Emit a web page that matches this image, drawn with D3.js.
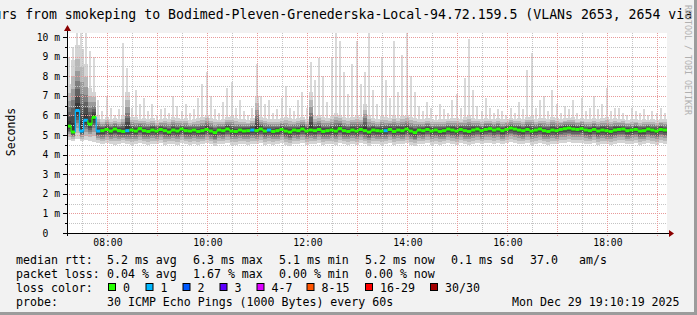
<!DOCTYPE html>
<html>
<head>
<meta charset="utf-8">
<script src="https://cdn.jsdelivr.net/npm/d3@7"></script>
<style>
  html, body { margin: 0; padding: 0; background: #f2f2f2; }
  svg { display: block; font-family: "DejaVu Sans Mono", monospace; }
  text { white-space: pre; }
</style>
</head>
<body>
<svg id="chart" width="697" height="315"></svg>
<script>
// 5 minute steps, 07:11:30 -> 19:11:30
const startTime = new Date(2025, 11, 29, 7, 11, 30);
const endTime = new Date(2025, 11, 29, 19, 11, 30);
const stepMinutes = 5;

// median rtt per step (ms)
const medianRtt = [
  5.45, 5.15, 6.25, 5.20, 5.75, 5.55, 5.90, 5.20, 5.22, 5.28, 5.20, 5.30, 5.22, 5.18, 5.22,
  5.25, 5.20, 5.32, 5.22, 5.18, 5.25, 5.20, 5.28, 5.22, 5.15, 5.25, 5.20, 5.30, 5.22, 5.20,
  5.25, 5.18, 5.22, 5.28, 5.20, 5.12, 5.25, 5.22, 5.30, 5.20, 5.18, 5.25, 5.20, 5.22, 5.25,
  5.22, 5.30, 5.20, 5.25, 5.18, 5.22, 5.28, 5.20, 5.15, 5.25, 5.22, 5.30, 5.20, 5.25, 5.22,
  5.28, 5.18, 5.22, 5.25, 5.20, 5.32, 5.22, 5.18, 5.25, 5.20, 5.28, 5.22, 5.15, 5.25, 5.22,
  5.20, 5.22, 5.28, 5.18, 5.25, 5.22, 5.30, 5.20, 5.12, 5.25, 5.22, 5.28, 5.20, 5.25, 5.18,
  5.22, 5.30, 5.25, 5.20, 5.28, 5.22, 5.18, 5.25, 5.30, 5.22, 5.28, 5.32, 5.25, 5.30, 5.22,
  5.28, 5.35, 5.30, 5.25, 5.22, 5.28, 5.20, 5.25, 5.30, 5.22, 5.18, 5.25, 5.22, 5.28, 5.32,
  5.35, 5.30, 5.28, 5.32, 5.25, 5.22, 5.28, 5.20, 5.25, 5.22, 5.18, 5.25, 5.28, 5.30, 5.22,
  5.25, 5.28, 5.20, 5.22, 5.30, 5.25, 5.20, 5.28, 5.25
];
// lowest ping per step
const lowRtt = [
  4.75, 4.70, 4.80, 4.70, 4.75, 4.70, 4.65, 4.60, 4.55, 4.60, 4.55, 4.50, 4.55, 4.60, 4.55,
  4.50, 4.55, 4.60, 4.55, 4.50, 4.55, 4.55, 4.60, 4.50, 4.55, 4.55, 4.50, 4.60, 4.55, 4.50,
  4.55, 4.50, 4.55, 4.60, 4.55, 4.45, 4.55, 4.55, 4.60, 4.50, 4.50, 4.55, 4.55, 4.50, 4.55,
  4.55, 4.60, 4.50, 4.55, 4.50, 4.55, 4.60, 4.50, 4.45, 4.55, 4.55, 4.60, 4.50, 4.55, 4.55,
  4.60, 4.50, 4.55, 4.55, 4.50, 4.60, 4.55, 4.50, 4.55, 4.50, 4.60, 4.55, 4.45, 4.55, 4.55,
  4.50, 4.55, 4.60, 4.50, 4.55, 4.55, 4.60, 4.50, 4.45, 4.55, 4.55, 4.60, 4.50, 4.55, 4.50,
  4.55, 4.60, 4.55, 4.50, 4.60, 4.55, 4.50, 4.55, 4.60, 4.55, 4.60, 4.60, 4.55, 4.60, 4.55,
  4.60, 4.65, 4.60, 4.55, 4.55, 4.60, 4.50, 4.55, 4.60, 4.55, 4.50, 4.55, 4.55, 4.60, 4.60,
  4.65, 4.60, 4.60, 4.60, 4.55, 4.55, 4.60, 4.50, 4.55, 4.55, 4.50, 4.55, 4.60, 4.60, 4.55,
  4.55, 4.60, 4.50, 4.55, 4.60, 4.55, 4.50, 4.60, 4.55
];
// top of the dense smoke per step
const upperRtt = [
  7.6, 8.8, 9.6, 9.4, 8.6, 7.4, 7.2, 6.0, 5.8, 5.9, 5.8, 5.85, 5.8, 6.0, 7.2,
  5.9, 5.9, 5.8, 5.85, 5.8, 5.85, 5.75, 5.8, 5.85, 5.8, 5.9, 5.85, 5.8, 5.85, 5.75,
  5.8, 5.85, 5.9, 6.0, 5.85, 5.8, 5.75, 5.8, 5.9, 5.95, 5.85, 5.8, 5.8, 5.75, 5.85,
  7.0, 5.9, 5.85, 5.8, 5.8, 5.8, 5.85, 5.9, 5.85, 5.8, 5.85, 5.9, 5.8, 7.2, 5.95,
  6.0, 5.9, 5.85, 5.95, 6.1, 6.0, 5.9, 5.85, 5.9, 6.0, 5.9, 6.6, 6.0, 5.85, 5.8,
  5.95, 5.9, 5.85, 6.0, 5.85, 5.95, 6.0, 5.9, 5.85, 5.8, 5.8, 5.85, 5.8, 5.75, 5.8,
  5.8, 5.8, 5.85, 5.85, 5.8, 5.9, 6.0, 5.85, 5.8, 5.8, 5.85, 5.8, 5.8, 5.85, 5.8,
  5.8, 5.85, 5.8, 5.85, 5.8, 5.9, 5.95, 5.8, 5.85, 5.85, 5.8, 5.9, 5.85, 5.8, 5.85,
  5.85, 5.9, 5.8, 5.85, 5.8, 5.8, 5.85, 5.8, 5.85, 5.9, 5.8, 5.85, 5.8, 5.8, 5.75,
  5.8, 5.8, 5.75, 5.8, 5.75, 5.8, 5.75, 5.8, 5.8
];
// highest ping per step
const maxRtt = [
  9.0, 9.5, 10.3, 10.3, 10.3, 9.3, 9.0, 6.8, 6.2, 7.0,
  6.4, 6.0, 6.3, 9.7, 8.4, 6.4, 7.3, 6.6, 6.9, 6.2,
  6.6, 6.0, 6.3, 6.4, 6.1, 7.0, 6.5, 6.2, 6.6, 6.1,
  6.3, 6.9, 7.6, 8.2, 7.0, 6.3, 6.1, 6.7, 7.4, 7.7,
  6.4, 6.8, 6.2, 6.0, 6.4, 8.6, 7.0, 6.6, 6.8, 6.1,
  6.3, 6.9, 7.5, 6.4, 6.2, 6.8, 7.2, 6.4, 8.7, 7.8,
  8.9, 8.0, 6.7, 9.0, 10.3, 9.8, 8.2, 7.1, 8.6, 9.8,
  7.6, 8.2, 10.3, 7.3, 6.6, 8.9, 7.8, 6.9, 9.8, 7.2,
  9.1, 10.3, 8.0, 7.2, 6.5, 6.2, 6.7, 6.4, 6.0, 6.6,
  6.3, 6.1, 6.8, 7.1, 6.4, 7.9, 9.9, 7.3, 6.5, 6.2,
  6.9, 6.4, 6.1, 6.3, 6.2, 6.0, 6.4, 6.1, 6.7, 6.3,
  8.3, 9.2, 6.4, 6.8, 7.0, 6.2, 7.3, 6.6, 6.1, 6.5,
  6.3, 6.8, 6.1, 6.9, 6.2, 6.4, 7.0, 6.3, 6.6, 7.4,
  6.2, 6.4, 6.4, 6.1, 6.0, 6.4, 6.2, 6.1, 6.3, 6.0,
  6.2, 6.1, 6.4, 6.1
];
// lost pings per step (out of 30)
const lossCount = [
  0, 0, 1, 1, 1, 0, 0, 1, 0, 0, 0, 0, 0, 0, 1,
  0, 0, 0, 0, 0, 0, 0, 0, 0, 0, 0, 0, 0, 0, 0,
  0, 0, 0, 0, 0, 0, 0, 0, 0, 0, 0, 0, 0, 0, 1,
  0, 0, 0, 1, 0, 0, 0, 0, 0, 0, 0, 0, 0, 0, 0,
  0, 0, 0, 0, 0, 0, 0, 0, 0, 0, 0, 0, 0, 0, 0,
  0, 1, 0, 0, 0, 0, 0, 0, 0, 0, 0, 0, 0, 0, 0,
  0, 0, 0, 0, 0, 0, 0, 0, 0, 0, 0, 0, 0, 0, 0,
  0, 0, 0, 0, 0, 0, 0, 0, 0, 0, 0, 0, 0, 0, 0,
  0, 0, 0, 0, 0, 0, 0, 0, 0, 0, 0, 0, 0, 0, 0,
  0, 0, 0, 0, 0, 0, 0, 0, 0
];

const yTicks = [0, 1, 2, 3, 4, 5, 6, 7, 8, 9, 10];
const lossLabels = ["0", "1", "2", "3", "4-7", "8-15", "16-29", "30/30"];
const lossColors = ["#26ff00", "#00b8ff", "#0059ff", "#5e00ff", "#dd00ff", "#ff5500", "#ff0000", "#a10000"];
const lossUpper = [0, 1, 2, 3, 7, 15, 29, 30];
const rttStats = ["5.2 ms avg", "6.3 ms max", "5.1 ms min", "5.2 ms now", "0.1 ms sd", "37.0", "am/s"];
const lossStats = ["0.04 % avg", "1.67 % max", "0.00 % min", "0.00 % now"];

const titleText = "Last 12 Hours from smokeping to Bodimed-Pleven-Grenederska-Local-94.72.159.5 (VLANs 2653, 2654 via";
const probeText = "30 ICMP Echo Pings (1000 Bytes) every 60s";
const stampText = "Mon Dec 29 19:10:19 2025";

const width = 697, height = 315;
const plot = { left: 67, right: 667, top: 33, bottom: 233 };

const svg = d3.select("#chart");

svg.append("rect").attr("width", width).attr("height", height).attr("fill", "#f2f2f2");

const x = d3.scaleTime().domain([startTime, endTime]).range([plot.left, plot.right]);
const y = d3.scaleLinear().domain([0, 10.2]).range([plot.bottom, plot.top]);

svg.append("rect")
  .attr("x", plot.left).attr("y", plot.top)
  .attr("width", plot.right - plot.left).attr("height", plot.bottom - plot.top)
  .attr("fill", "#ffffff");

const steps = medianRtt.map((m, i) => ({
  t0: d3.timeMinute.offset(startTime, i * stepMinutes),
  t1: d3.timeMinute.offset(startTime, (i + 1) * stepMinutes),
  med: m, lo: lowRtt[i], up: upperRtt[i], max: maxRtt[i], loss: lossCount[i]
}));

svg.append("clipPath").attr("id", "plotclip")
  .append("rect").attr("x", plot.left).attr("y", plot.top)
  .attr("width", plot.right - plot.left).attr("height", plot.bottom - plot.top);

const g = svg.append("g").attr("clip-path", "url(#plotclip)").attr("shape-rendering", "crispEdges");

// outlier pings above the dense smoke: thin light spikes
g.selectAll("rect.spike").data(steps).enter().append("rect")
  .attr("x", d => Math.round(x(d.t0)) + 1).attr("width", 2)
  .attr("y", d => y(d.max)).attr("height", d => y(d.up) - y(d.max))
  .attr("fill", "#d9d9d9");

// smoke layers, darker towards the median
const layerFrac = [1, 0.78, 0.6, 0.45, 0.33, 0.22, 0.12];
const layerGray = ["#d4d4d4", "#b8b8b8", "#9a9a9a", "#7d7d7d", "#626262", "#4a4a4a", "#383838"];
layerFrac.forEach((f, k) => {
  g.selectAll("rect.layer" + k).data(steps).enter().append("rect")
    .attr("x", d => x(d.t0)).attr("width", d => x(d.t1) - x(d.t0))
    .attr("y", d => y(d.med + (d.up - d.med) * f))
    .attr("height", d => y(d.med - (d.med - d.lo) * f) - y(d.med + (d.up - d.med) * f))
    .attr("fill", layerGray[k]);
});

// grid
const grid = svg.append("g");
const minorX = d3.timeMinute.every(30).range(startTime, endTime);
const majorX = d3.timeHour.every(1).range(startTime, endTime);
grid.selectAll("line.mx").data(minorX.filter(t => t.getMinutes() === 30)).enter().append("line")
  .attr("x1", d => Math.round(x(d)) + 0.5).attr("x2", d => Math.round(x(d)) + 0.5)
  .attr("y1", plot.top).attr("y2", plot.bottom)
  .attr("stroke", "#c4c4c4").attr("stroke-dasharray", "1,1");
grid.selectAll("line.my").data(d3.range(0.5, 10.2, 1)).enter().append("line")
  .attr("x1", plot.left).attr("x2", plot.right)
  .attr("y1", d => Math.round(y(d)) + 0.5).attr("y2", d => Math.round(y(d)) + 0.5)
  .attr("stroke", "#c4c4c4").attr("stroke-dasharray", "1,1");
grid.selectAll("line.Mx").data(majorX).enter().append("line")
  .attr("x1", d => Math.round(x(d)) + 0.5).attr("x2", d => Math.round(x(d)) + 0.5)
  .attr("y1", plot.top).attr("y2", plot.bottom + 3)
  .attr("stroke", "#e89a9a").attr("stroke-dasharray", "1,1");
grid.selectAll("line.My").data(yTicks.slice(1)).enter().append("line")
  .attr("x1", plot.left - 4).attr("x2", plot.right)
  .attr("y1", d => Math.round(y(d)) + 0.5).attr("y2", d => Math.round(y(d)) + 0.5)
  .attr("stroke", "#e89a9a").attr("stroke-dasharray", "1,1");

// median line, coloured by loss
const lossIndex = n => lossUpper.findIndex(u => n <= u);
const med = svg.append("g").attr("clip-path", "url(#plotclip)");
med.selectAll("path.step").data(steps).enter().append("path")
  .attr("d", d => "M" + x(d.t0) + "," + y(d.med) + "H" + x(d.t1))
  .attr("fill", "none")
  .attr("stroke", d => lossColors[lossIndex(d.loss)])
  .attr("stroke-width", 3);
med.selectAll("path.rise").data(steps.slice(1)).enter().append("path")
  .attr("d", (d, i) => "M" + x(d.t0) + "," + y(steps[i].med) + "V" + y(d.med))
  .attr("fill", "none")
  .attr("stroke", d => lossColors[lossIndex(d.loss)])
  .attr("stroke-width", 1.2);

// axes
svg.append("line").attr("x1", plot.left + 0.5).attr("x2", plot.left + 0.5)
  .attr("y1", plot.bottom + 3).attr("y2", 30).attr("stroke", "#000");
svg.append("line").attr("x1", plot.left - 3).attr("x2", plot.right + 3)
  .attr("y1", plot.bottom + 0.5).attr("y2", plot.bottom + 0.5).attr("stroke", "#000");
svg.append("path").attr("d", `M${plot.left - 3},31L${plot.left + 0.5},25L${plot.left + 4},31Z`).attr("fill", "#8b0000");
svg.append("path").attr("d", `M${plot.right + 2},${plot.bottom - 3}L${plot.right + 7},${plot.bottom + 0.5}L${plot.right + 2},${plot.bottom + 4}Z`).attr("fill", "#8b0000");

// y ticks and labels
svg.selectAll("line.yt").data(yTicks).enter().append("line")
  .attr("x1", plot.left - 4).attr("x2", plot.left)
  .attr("y1", d => Math.round(y(d)) + 0.5).attr("y2", d => Math.round(y(d)) + 0.5)
  .attr("stroke", "#000");
svg.selectAll("line.yt2").data(d3.range(0.5, 10.2, 1)).enter().append("line")
  .attr("x1", plot.left - 2).attr("x2", plot.left)
  .attr("y1", d => Math.round(y(d)) + 0.5).attr("y2", d => Math.round(y(d)) + 0.5)
  .attr("stroke", "#000");
svg.selectAll("text.yl").data(yTicks).enter().append("text")
  .attr("x", 60).attr("y", d => y(d) + 3.6)
  .attr("text-anchor", "end").attr("font-size", "9.7px").attr("fill", "#000")
  .text(d => d === 0 ? "0  " : d + " m");

// x labels every 2 hours
const xLabels = d3.timeHour.every(2).range(startTime, endTime);
svg.selectAll("text.xl").data(xLabels).enter().append("text")
  .attr("x", d => x(d) + 0.5).attr("y", 246)
  .attr("text-anchor", "middle").attr("font-size", "9.7px").attr("fill", "#000")
  .text(d3.timeFormat("%H:%M"));

// y title
svg.append("text").attr("transform", "translate(15,132) rotate(-90)")
  .attr("text-anchor", "middle").attr("font-size", "11.5px").attr("fill", "#000")
  .text("Seconds");

// title (wider than the image, centred and cropped like the original)
svg.append("text").attr("x", -86).attr("y", 18.5)
  .attr("font-size", "13.2px").attr("fill", "#000").text(titleText);

// watermark
svg.append("text").attr("transform", "translate(685,5) rotate(90)")
  .attr("font-size", "8.3px").attr("fill", "#b0b0b0")
  .text("RRDTOOL / TOBI OETIKER");

// legend
const legend = svg.append("g").attr("font-size", "11.6px").attr("fill", "#000");
const statX = [107, 193, 279, 365, 451, 530, 579];
legend.append("text").attr("x", 16).attr("y", 263.5).text("median rtt:");
rttStats.forEach((s, i) => legend.append("text").attr("x", statX[i]).attr("y", 263.5).text(s));
legend.append("text").attr("x", 16).attr("y", 277.5).text("packet loss:");
lossStats.forEach((s, i) => legend.append("text").attr("x", statX[i]).attr("y", 277.5).text(s));
legend.append("text").attr("x", 16).attr("y", 291.5).text("loss color:");
const boxX = [108, 145.5, 182.5, 219.5, 256.5, 306.5, 365, 430];
lossLabels.forEach((l, i) => {
  legend.append("rect").attr("x", boxX[i] + 0.5).attr("y", 283.5).attr("width", 7).attr("height", 7)
    .attr("fill", lossColors[i]).attr("stroke", "#000");
  legend.append("text").attr("x", boxX[i] + 15).attr("y", 291.5).text(l);
});
legend.append("text").attr("x", 16).attr("y", 305.5).text("probe:");
legend.append("text").attr("x", 107).attr("y", 305.5).text(probeText);
legend.append("text").attr("x", 512).attr("y", 305.5).text(stampText);

// frame shading
svg.append("rect").attr("x", 694).attr("y", 0).attr("width", 3).attr("height", height).attr("fill", "#9c9c9c");
svg.append("rect").attr("x", 0).attr("y", 312).attr("width", width).attr("height", 3).attr("fill", "#9c9c9c");
</script>
</body>
</html>
